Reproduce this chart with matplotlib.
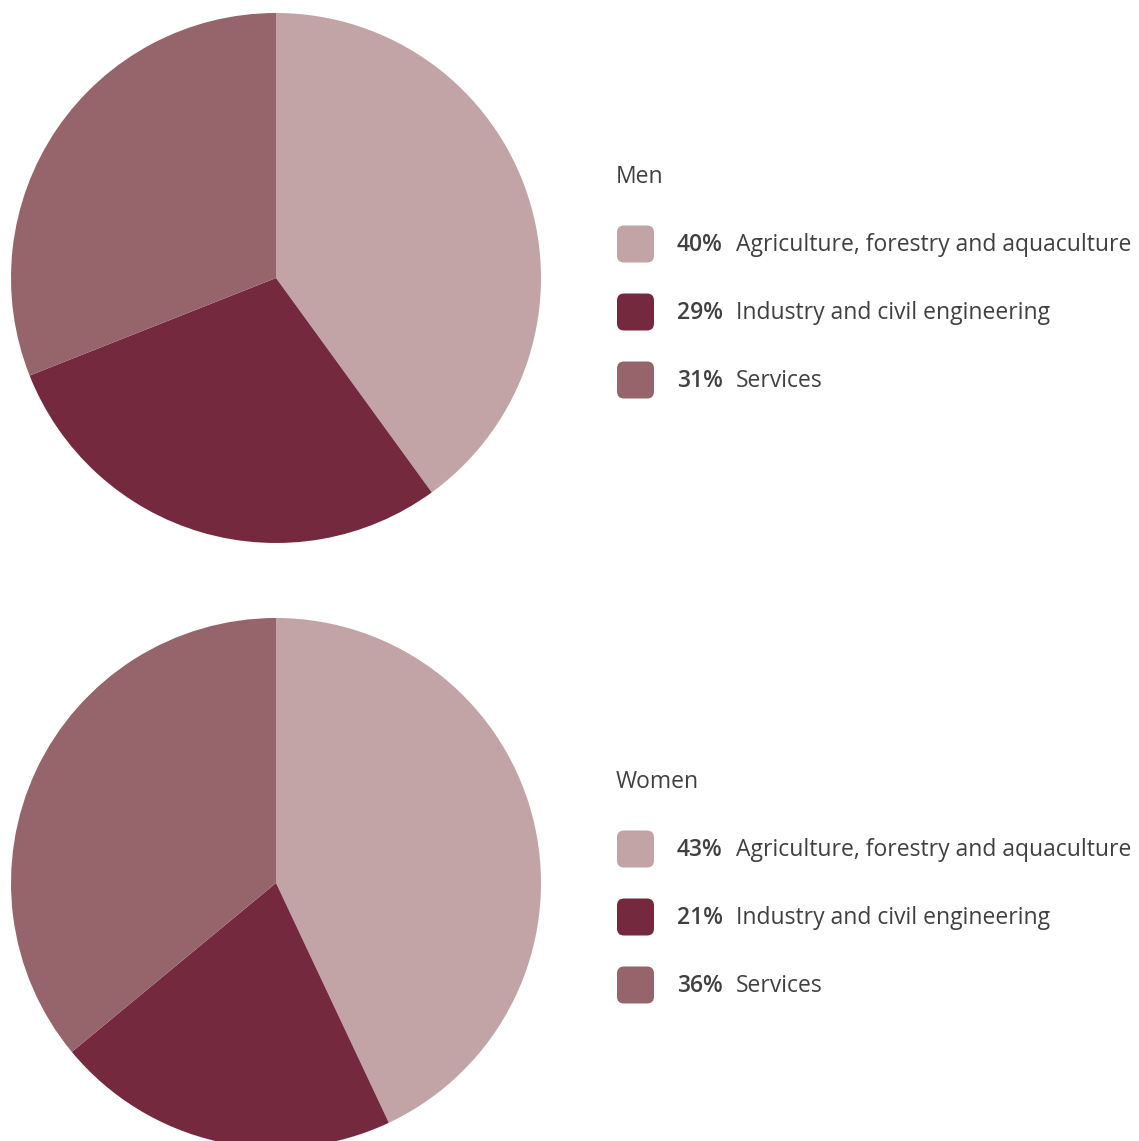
import matplotlib
matplotlib.use("Agg")
import matplotlib.pyplot as plt
from matplotlib.patches import FancyBboxPatch

plt.rcParams.update({
    'font.family': 'Open Sans',
    'font.size': 16.5,
})

groups = ['Men', 'Women']
sectors = ['Agriculture, forestry and aquaculture',
           'Industry and civil engineering',
           'Services']
men = [40, 29, 31]
women = [43, 21, 36]
colors = ['#C2A3A6', '#75293F', '#96646B']
text_col = '#404040'

W, H = 1139, 1141
fig = plt.figure(figsize=(W / 100, H / 100), dpi=100)

# pies, positioned in pixel units
pie_boxes = [(11, 13, 530), (11, 618, 530)]  # left, top, size
for (left, top, size), vals in zip(pie_boxes, [men, women]):
    ax = fig.add_axes([left / W, (H - top - size) / H, size / W, size / H])
    ax.pie(vals, colors=colors, startangle=90, counterclock=False,
           radius=1, wedgeprops={'linewidth': 0})
    ax.set_xlim(-1, 1)
    ax.set_ylim(-1, 1)
    ax.set_aspect('equal')
    ax.axis('off')

# overlay for the legends, in pixel coordinates
lax = fig.add_axes([0, 0, 1, 1])
lax.set_xlim(0, W)
lax.set_ylim(H, 0)
lax.axis('off')

fig.canvas.draw()
renderer = fig.canvas.get_renderer()

title_y = [176, 781]
for gi, (name, vals) in enumerate(zip(groups, [men, women])):
    ty = title_y[gi]
    lax.text(616, ty + 1, name, va='center', ha='left', color=text_col)
    for i, (lab, v) in enumerate(zip(sectors, vals)):
        cy = ty + 68 * (i + 1)
        lax.add_patch(FancyBboxPatch((617 + 7, cy - 18.5 + 7), 37 - 14, 37 - 14,
                                     boxstyle='round,pad=7', fc=colors[i], ec='none'))
        t = lax.text(677, cy + 1, f'{v}%', va='center', ha='left', color=text_col,
                     fontweight='semibold')
        bb = t.get_window_extent(renderer=renderer)
        lax.text(bb.x1 + 13, cy + 1, lab, va='center', ha='left', color=text_col)

fig.savefig('out.png', dpi=100, facecolor='white')
